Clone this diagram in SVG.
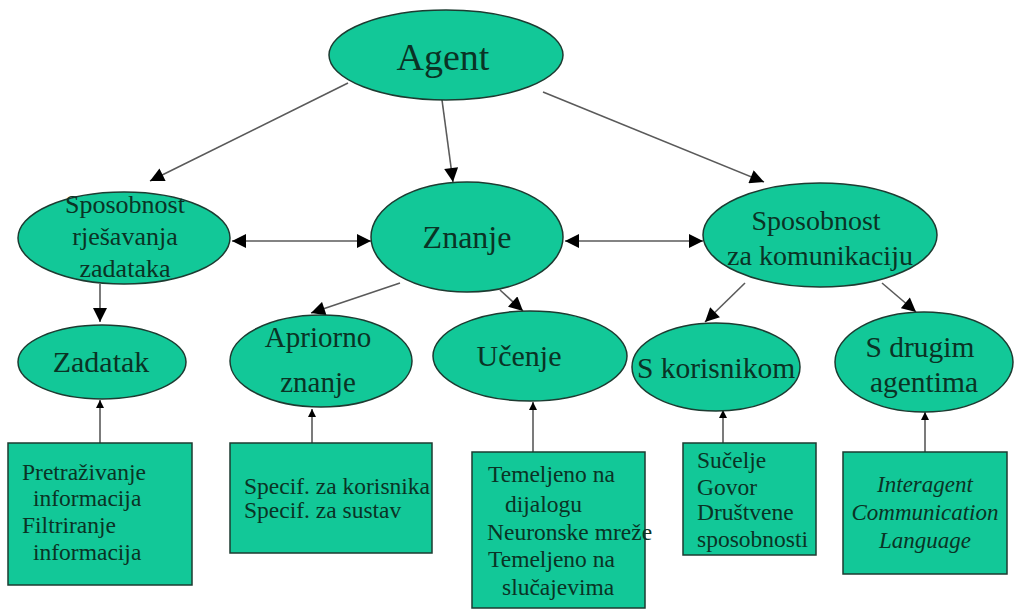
<svg xmlns="http://www.w3.org/2000/svg" width="1015" height="610" viewBox="0 0 1015 610">
  <defs>
    <style>
      .node { fill: #12c898; stroke: #1d3b31; stroke-width: 1.5; }
      .lbl { font-family: "Liberation Serif", "Times New Roman", serif; fill: #0a3325; text-anchor: middle; }
      .txt { font-family: "Liberation Serif", "Times New Roman", serif; fill: #0a3325; font-size: 23.5px; }
      .edge { stroke: #5a5a5a; stroke-width: 1.6; fill: none; }
      .arr { marker-end: url(#head); }
      .bi { marker-start: url(#headStart); marker-end: url(#head); }
      .up { marker-end: url(#headSmall); }
    </style>
    <marker id="head" viewBox="0 0 10 10" refX="10" refY="5" markerUnits="userSpaceOnUse" markerWidth="15" markerHeight="14" orient="auto">
      <path d="M0,0 L10,5 L0,10 Z" fill="#000"/>
    </marker>
    <marker id="headStart" viewBox="0 0 10 10" refX="0" refY="5" markerUnits="userSpaceOnUse" markerWidth="15" markerHeight="14" orient="auto">
      <path d="M10,0 L0,5 L10,10 Z" fill="#000"/>
    </marker>
    <marker id="headSmall" viewBox="0 0 10 10" refX="10" refY="5" markerUnits="userSpaceOnUse" markerWidth="8" markerHeight="8" orient="auto">
      <path d="M0,0 L10,5 L0,10 Z" fill="#000"/>
    </marker>
  </defs>

  <rect width="1015" height="610" fill="#fff"/>

  <!-- connectors -->
  <g id="connectors">
    <line class="edge arr" x1="348" y1="83" x2="150" y2="181"/>
    <line class="edge arr" x1="442" y1="100" x2="453" y2="182"/>
    <line class="edge arr" x1="543" y1="92" x2="764" y2="182"/>
    <line class="edge bi" x1="232" y1="241" x2="371" y2="241"/>
    <line class="edge bi" x1="565" y1="241" x2="703" y2="241"/>
    <line class="edge arr" x1="100" y1="284" x2="100" y2="322"/>
    <line class="edge arr" x1="400" y1="283" x2="311" y2="313"/>
    <line class="edge arr" x1="500" y1="290" x2="523" y2="311"/>
    <line class="edge arr" x1="745" y1="283" x2="705" y2="322"/>
    <line class="edge arr" x1="882" y1="283" x2="916" y2="312"/>
    <line class="edge up" x1="100" y1="443" x2="100" y2="400"/>
    <line class="edge up" x1="312" y1="443" x2="312" y2="409"/>
    <line class="edge up" x1="533" y1="452" x2="533" y2="402"/>
    <line class="edge up" x1="723" y1="443" x2="723" y2="410"/>
    <line class="edge up" x1="925" y1="452" x2="925" y2="412"/>
  </g>

  <g id="agent">
    <ellipse class="node" cx="446" cy="55" rx="117" ry="45"/>
    <text class="lbl" x="443" y="70" font-size="38">Agent</text>
  </g>

  <g id="sposobnost-rjesavanja">
    <ellipse class="node" cx="124" cy="238" rx="106" ry="46"/>
    <text class="lbl" x="125" y="213" font-size="26">Sposobnost</text>
    <text class="lbl" x="125" y="245" font-size="26">rješavanja</text>
    <text class="lbl" x="125" y="277" font-size="26">zadataka</text>
  </g>

  <g id="znanje">
    <ellipse class="node" cx="467" cy="237" rx="96" ry="55"/>
    <text class="lbl" x="467" y="248" font-size="32">Znanje</text>
  </g>

  <g id="sposobnost-komunikacija">
    <ellipse class="node" cx="820" cy="235" rx="117" ry="52"/>
    <text class="lbl" x="816" y="230" font-size="28">Sposobnost</text>
    <text class="lbl" x="820" y="265" font-size="28">za komunikaciju</text>
  </g>

  <g id="zadatak">
    <ellipse class="node" cx="102" cy="362" rx="84" ry="37"/>
    <text class="lbl" x="101" y="372" font-size="30">Zadatak</text>
  </g>

  <g id="apriorno-znanje">
    <ellipse class="node" cx="321" cy="361" rx="91" ry="46"/>
    <text class="lbl" x="318" y="347" font-size="29">Apriorno</text>
    <text class="lbl" x="318" y="392" font-size="29">znanje</text>
  </g>

  <g id="ucenje">
    <ellipse class="node" cx="530" cy="356" rx="97" ry="45"/>
    <text class="lbl" x="519" y="366" font-size="30">Učenje</text>
  </g>

  <g id="s-korisnikom">
    <ellipse class="node" cx="716" cy="367" rx="84" ry="44"/>
    <text class="lbl" x="716" y="378" font-size="29.5">S korisnikom</text>
  </g>

  <g id="s-drugim-agentima">
    <ellipse class="node" cx="924" cy="362" rx="89" ry="50"/>
    <text class="lbl" x="920" y="357" font-size="29.5">S drugim</text>
    <text class="lbl" x="924" y="392" font-size="29.5">agentima</text>
  </g>

  <g id="box-zadatak">
    <rect class="node" x="8" y="443" width="184" height="142"/>
    <text class="txt" x="22" y="480">Pretraživanje</text>
    <text class="txt" x="33" y="506">informacija</text>
    <text class="txt" x="22" y="533">Filtriranje</text>
    <text class="txt" x="33" y="560">informacija</text>
  </g>

  <g id="box-apriorno">
    <rect class="node" x="230" y="443" width="202" height="110"/>
    <text class="txt" x="244" y="494">Specif. za korisnika</text>
    <text class="txt" x="244" y="518">Specif. za sustav</text>
  </g>

  <g id="box-ucenje">
    <rect class="node" x="472" y="452" width="173" height="156"/>
    <text class="txt" x="488" y="482">Temeljeno na</text>
    <text class="txt" x="505" y="512">dijalogu</text>
    <text class="txt" x="487" y="540">Neuronske mreže</text>
    <text class="txt" x="488" y="567">Temeljeno na</text>
    <text class="txt" x="502" y="595">slučajevima</text>
  </g>

  <g id="box-korisnik">
    <rect class="node" x="683" y="443" width="133" height="112"/>
    <text class="txt" x="697" y="468">Sučelje</text>
    <text class="txt" x="697" y="495">Govor</text>
    <text class="txt" x="697" y="520">Društvene</text>
    <text class="txt" x="697" y="547">sposobnosti</text>
  </g>

  <g id="box-agenti">
    <rect class="node" x="843" y="452" width="164" height="122"/>
    <text class="lbl" x="925" y="492" font-size="23" font-style="italic">Interagent</text>
    <text class="lbl" x="925" y="520" font-size="23" font-style="italic">Communication</text>
    <text class="lbl" x="925" y="548" font-size="23" font-style="italic">Language</text>
  </g>
</svg>
